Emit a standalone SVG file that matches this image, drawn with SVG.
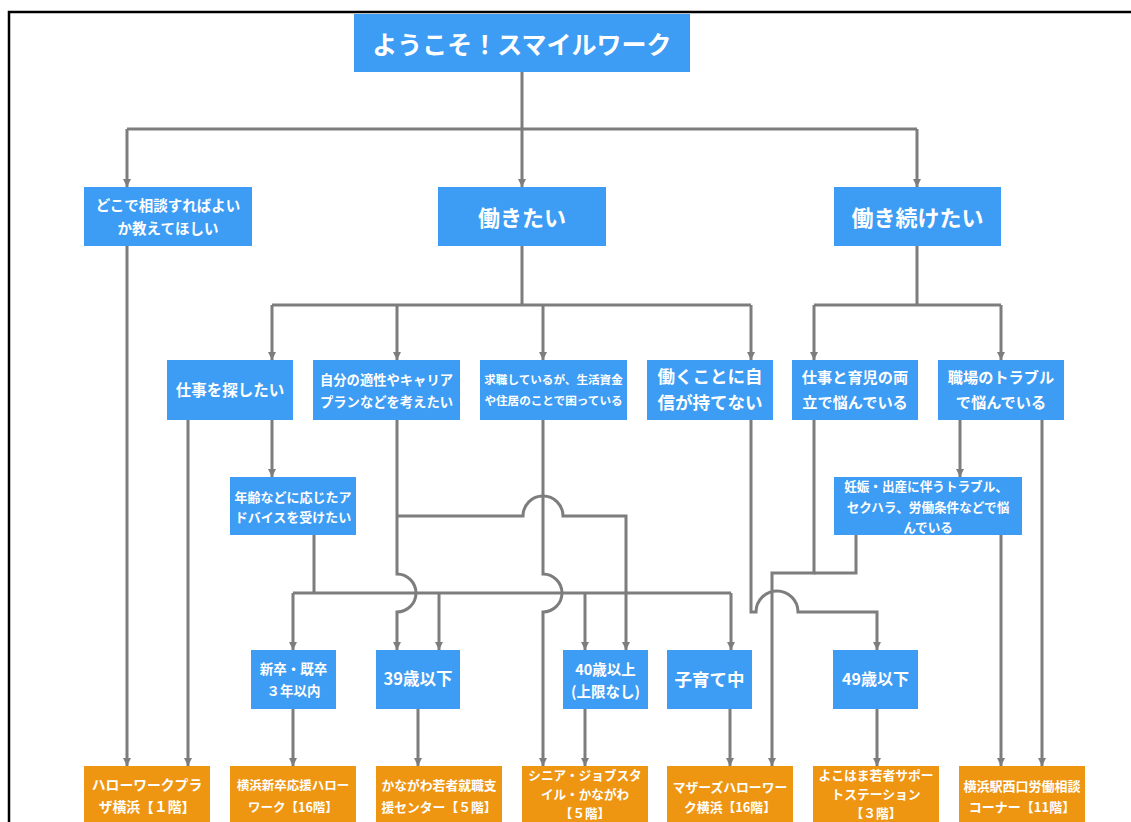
<svg xmlns="http://www.w3.org/2000/svg" width="1131" height="822" viewBox="0 0 1131 822">
<style>
.b{fill:#3d9cf3}
.o{fill:#ee9512}
text{font-family:"Noto Sans CJK JP","Noto Sans",sans-serif;font-weight:bold;fill:#fff;text-anchor:middle;dominant-baseline:central}
.c path{fill:none;stroke:#7d7d7d;stroke-width:3}
.c path.a{marker-end:url(#ah)}
</style>
<defs>
<marker id="ah" markerUnits="userSpaceOnUse" markerWidth="10" markerHeight="10" refX="8" refY="5" orient="auto">
<path d="M0,1 L8,5 L0,9 Z" fill="#7d7d7d"/>
</marker>
</defs>
<rect width="1131" height="822" fill="#fff"/>
<path d="M9,822 V12 H1131" fill="none" stroke="#000" stroke-width="2.5"/>

<g class="c" id="connectors">
<path d="M522,72 V129"/>
<path d="M127,129 H917"/>
<path class="a" d="M127,129 V187"/>
<path class="a" d="M522,129 V187"/>
<path class="a" d="M917,129 V187"/>
<path class="a" d="M127,246 V766"/>
<path d="M522,246 V305"/>
<path d="M272,305 H751"/>
<path class="a" d="M272,305 V360"/>
<path class="a" d="M397,305 V360"/>
<path class="a" d="M543,305 V360"/>
<path class="a" d="M751,305 V360"/>
<path d="M917,246 V305"/>
<path d="M814,305 H1001"/>
<path class="a" d="M814,305 V360"/>
<path class="a" d="M1001,305 V360"/>
<path class="a" d="M188,420 V766"/>
<path class="a" d="M272,420 V477"/>
<path class="a" d="M397,420 V574 A19,19 0 0 1 397,612 V650"/>
<path class="a" d="M397,516 H523 A20,20 0 0 1 563,516 H626 V650"/>
<path class="a" d="M543,420 V574 A19,19 0 0 1 543,612 V766"/>
<path d="M314,535 V593"/>
<path d="M293,593 H731"/>
<path class="a" d="M293,593 V650"/>
<path class="a" d="M439,593 V650"/>
<path class="a" d="M585,593 V650"/>
<path class="a" d="M731,593 V650"/>
<path class="a" d="M751,420 V612 H756 A21,21 0 0 1 798,612 H877 V650"/>
<path class="a" d="M814,420 V573 H772 V766"/>
<path d="M856,535 V573 H814"/>
<path class="a" d="M960,420 V477"/>
<path class="a" d="M1042,420 V766"/>
<path class="a" d="M1001,535 V766"/>
<path class="a" d="M293,709 V766"/>
<path class="a" d="M418,709 V766"/>
<path class="a" d="M585,709 V766"/>
<path class="a" d="M730,709 V766"/>
<path class="a" d="M877,709 V766"/>
</g>

<g id="n-title"><rect class="b" x="354" y="14" width="336" height="58"/><text x="522" y="43" font-size="25">ようこそ！スマイルワーク</text></g>
<g id="n-doko"><rect class="b" x="84" y="187" width="168" height="59"/><text x="168" y="204" font-size="14.5">どこで相談すればよい</text><text x="168" y="227" font-size="14.5">か教えてほしい</text></g>
<g id="n-hataraki"><rect class="b" x="438" y="187" width="168" height="59"/><text x="522" y="216" font-size="22">働きたい</text></g>
<g id="n-tsuzuke"><rect class="b" x="834" y="187" width="167" height="59"/><text x="917.5" y="216" font-size="22">働き続けたい</text></g>

<g id="n-sagashi"><rect class="b" x="167" y="360" width="126" height="60"/><text x="230" y="389" font-size="15.5">仕事を探したい</text></g>
<g id="n-tekisei"><rect class="b" x="313" y="360" width="147" height="60"/><text x="386.5" y="379" font-size="13.3">自分の適性やキャリア</text><text x="386.5" y="401" font-size="13.3">プランなどを考えたい</text></g>
<g id="n-kyushoku"><rect class="b" x="480" y="360" width="147" height="60"/><text x="553.5" y="379" font-size="11.6">求職しているが、生活資金</text><text x="553.5" y="400" font-size="11.6">や住居のことで困っている</text></g>
<g id="n-jishin"><rect class="b" x="647" y="360" width="126" height="60"/><text x="710" y="375" font-size="17.5">働くことに自</text><text x="710" y="401" font-size="17.5">信が持てない</text></g>
<g id="n-ikuji"><rect class="b" x="792" y="360" width="126" height="60"/><text x="855" y="376" font-size="15.2">仕事と育児の両</text><text x="855" y="401" font-size="15.2">立で悩んでいる</text></g>
<g id="n-trouble"><rect class="b" x="938" y="360" width="126" height="60"/><text x="1001" y="376" font-size="15.2">職場のトラブル</text><text x="1001" y="401" font-size="15.2">で悩んでいる</text></g>

<g id="n-nenrei"><rect class="b" x="230" y="477" width="126" height="58"/><text x="293" y="496" font-size="13">年齢などに応じたア</text><text x="293" y="516" font-size="13">ドバイスを受けたい</text></g>
<g id="n-ninshin"><rect class="b" x="834" y="477" width="188" height="58"/><text x="926" y="485" font-size="12.6">妊娠・出産に伴うトラブル、</text><text x="928" y="506" font-size="12.6">セクハラ、労働条件などで悩</text><text x="928" y="526" font-size="12.6">んでいる</text></g>

<g id="n-shinsotsu"><rect class="b" x="251" y="650" width="85" height="59"/><text x="293.5" y="668" font-size="13.5">新卒・既卒</text><text x="293.5" y="690" font-size="13.5">３年以内</text></g>
<g id="n-39"><rect class="b" x="376" y="650" width="84" height="59"/><text x="418" y="678" font-size="16.5">39歳以下</text></g>
<g id="n-40"><rect class="b" x="563" y="650" width="85" height="59"/><text x="605.5" y="668" font-size="14.5">40歳以上</text><text x="605.5" y="690" font-size="14.5">(上限なし)</text></g>
<g id="n-kosodate"><rect class="b" x="667" y="650" width="85" height="59"/><text x="709.5" y="678" font-size="17.5">子育て中</text></g>
<g id="n-49"><rect class="b" x="833" y="650" width="85" height="59"/><text x="875.5" y="678" font-size="16">49歳以下</text></g>

<g id="n-plaza"><rect class="o" x="84" y="766" width="126" height="64"/><text x="147" y="784" font-size="13.8">ハローワークプラ</text><text x="147" y="806" font-size="13.8">ザ横浜【１階】</text></g>
<g id="n-shinsotsu-hw"><rect class="o" x="230" y="766" width="126" height="64"/><text x="293" y="784" font-size="12.5">横浜新卒応援ハロー</text><text x="293" y="806" font-size="12.5">ワーク【16階】</text></g>
<g id="n-kanagawa"><rect class="o" x="376" y="766" width="126" height="64"/><text x="439" y="784" font-size="12.8">かながわ若者就職支</text><text x="439" y="806" font-size="12.8">援センター【５階】</text></g>
<g id="n-senior"><rect class="o" x="522" y="766" width="126" height="64"/><text x="585" y="774" font-size="12.6">シニア・ジョブスタ</text><text x="585" y="793" font-size="12.6">イル・かながわ</text><text x="585" y="812" font-size="12.6">【５階】</text></g>
<g id="n-mothers"><rect class="o" x="667" y="766" width="126" height="64"/><text x="730" y="786" font-size="12.8">マザーズハローワー</text><text x="730" y="806" font-size="12.8">ク横浜【16階】</text></g>
<g id="n-yokohama"><rect class="o" x="813" y="766" width="126" height="64"/><text x="876" y="774" font-size="12.8">よこはま若者サポー</text><text x="876" y="793" font-size="12.8">トステーション</text><text x="876" y="812" font-size="12.8">【３階】</text></g>
<g id="n-nishiguchi"><rect class="o" x="959" y="766" width="126" height="64"/><text x="1022" y="785" font-size="13">横浜駅西口労働相談</text><text x="1022" y="806" font-size="13">コーナー【11階】</text></g>
</svg>
